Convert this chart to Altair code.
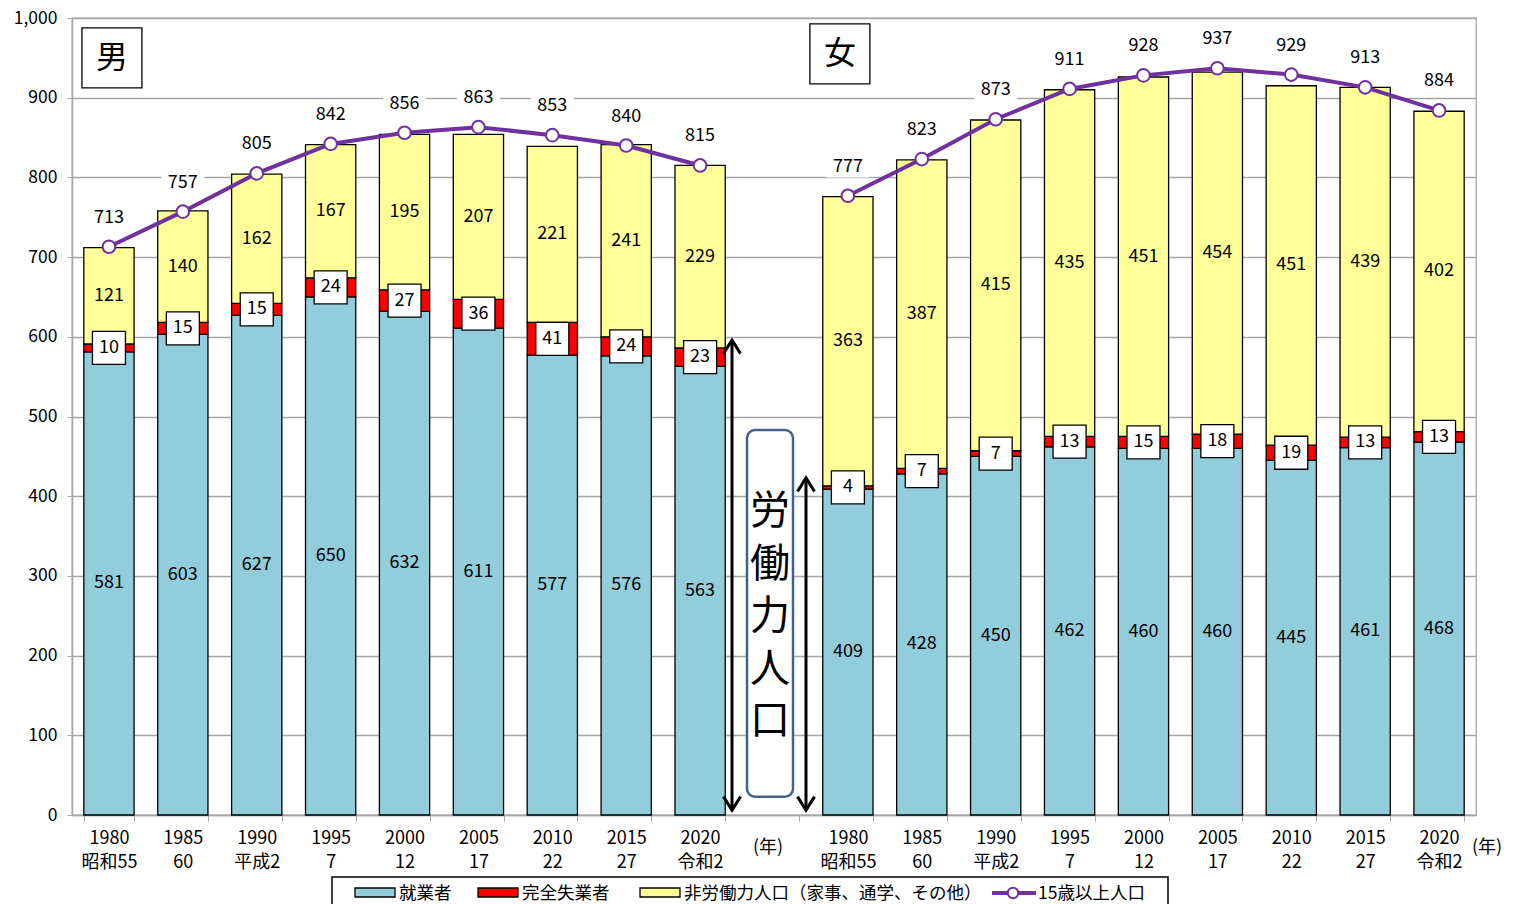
import altair as alt
import pandas as pd

# ---------------- data ----------------
years = ["1980", "1985", "1990", "1995", "2000", "2005", "2010", "2015", "2020"]
eras = ["昭和55", "60", "平成2", "7", "12", "17", "22", "27", "令和2"]

male_employed = [581, 603, 627, 650, 632, 611, 577, 576, 563]
male_unemployed = [10, 15, 15, 24, 27, 36, 41, 24, 23]
male_nonlabor = [121, 140, 162, 167, 195, 207, 221, 241, 229]
male_total = [713, 757, 805, 842, 856, 863, 853, 840, 815]

female_employed = [409, 428, 450, 462, 460, 460, 445, 461, 468]
female_unemployed = [4, 7, 7, 13, 15, 18, 19, 13, 13]
female_nonlabor = [363, 387, 415, 435, 451, 454, 451, 439, 402]
female_total = [777, 823, 873, 911, 928, 937, 929, 913, 884]

series_names = ["就業者", "完全失業者", "非労働力人口（家事、通学、その他）"]
line_name = "15歳以上人口"
series_colors = ["#92CDDC", "#FF0000", "#FFFF99"]
purple = "#7030A0"
grid_gray = "#A6A6A6"
FONT = "Noto Sans CJK JP"
NUM = 18

male_cats = [f"M|{y}|{e}" for y, e in zip(years, eras)]
female_cats = [f"F|{y}|{e}" for y, e in zip(years, eras)]
cats = male_cats + ["GAP"] + female_cats

# wide table
rows = []
for grp, cl, emp, une, non, tot in [
    ("男", male_cats, male_employed, male_unemployed, male_nonlabor, male_total),
    ("女", female_cats, female_employed, female_unemployed, female_nonlabor, female_total),
]:
    for c, a, b, n, t in zip(cl, emp, une, non, tot):
        rows.append(dict(cat=c, group=grp, emp=a, une=b, non=n, total=t,
                         emp_mid=a / 2, une_mid=a + b / 2, non_mid=a + b + n / 2))
wide = pd.DataFrame(rows)

long_rows = []
for r in rows:
    for i, (s, k) in enumerate(zip(series_names, ["emp", "une", "non"])):
        long_rows.append(dict(cat=r["cat"], series=s, value=r[k], order=i))
long = pd.DataFrame(long_rows)

# ---------------- scales & axes ----------------
xscale = alt.Scale(domain=cats, paddingInner=0.32, paddingOuter=0.16)
yscale = alt.Scale(domain=[0, 1000], nice=False)

label_expr = ("datum.value == 'GAP' ? '' : "
              "[split(datum.value,'|')[1], split(datum.value,'|')[2]]")

x_axis = alt.Axis(title=None, labelExpr=label_expr, labelAngle=0, labelFontSize=18,
                  labelLineHeight=24, labelFont=FONT, labelColor="black",
                  tickBand="extent", tickSize=6, tickColor=grid_gray,
                  domainColor=grid_gray, domainWidth=1.5, labelPadding=8,
                  labelBaseline="top", labelOverlap=False, grid=False)
y_axis = alt.Axis(title=None, values=list(range(0, 1001, 100)), format=",d",
                  labelFontSize=17.5, labelFont=FONT, labelColor="black",
                  gridColor=grid_gray, gridWidth=1.3, domainColor=grid_gray,
                  domainWidth=1.5, tickColor=grid_gray, tickSize=5, labelPadding=10)


def X():
    return alt.X("cat:N", scale=xscale, sort=cats, axis=x_axis)


def Y(field, **kw):
    return alt.Y(field, scale=yscale, axis=y_axis, **kw)


# ---------------- layers ----------------
bars = alt.Chart(long).mark_bar(stroke="black", strokeWidth=1.3).encode(
    x=X(),
    y=Y("value:Q", stack="zero"),
    color=alt.Color("series:N", scale=alt.Scale(domain=series_names, range=series_colors),
                    legend=None),
    order=alt.Order("order:Q"),
)

emp_text = alt.Chart(wide).mark_text(fontSize=NUM, font=FONT, color="black").encode(
    x=X(), y=Y("emp_mid:Q"), text="emp:Q")
non_text = alt.Chart(wide).mark_text(fontSize=NUM, font=FONT, color="black").encode(
    x=X(), y=Y("non_mid:Q"), text="non:Q")
une_box = alt.Chart(wide).mark_point(shape="square", size=1089, filled=True, fill="white",
                                     stroke="black", strokeWidth=1.3, opacity=1).encode(
    x=X(), y=Y("une_mid:Q"))
une_text = alt.Chart(wide).mark_text(fontSize=NUM, font=FONT, color="black").encode(
    x=X(), y=Y("une_mid:Q"), text="une:Q")

line = alt.Chart(wide).mark_line(color=purple, strokeWidth=4).encode(
    x=X(), y=Y("total:Q"), detail="group:N")
pts = alt.Chart(wide).mark_point(filled=True, fill="white", stroke=purple, strokeWidth=2,
                                 size=160, opacity=1).encode(
    x=X(), y=Y("total:Q"))
tot_bg = alt.Chart(wide).mark_point(shape="M-1,-0.5H1V0.5H-1Z", size=1849, filled=True,
                                    fill="white", strokeWidth=0, opacity=1, yOffset=-29).encode(
    x=X(), y=Y("total:Q"))
tot_text = alt.Chart(wide).mark_text(fontSize=NUM, font=FONT, color="black", yOffset=-29).encode(
    x=X(), y=Y("total:Q"), text="total:Q")

# gender boxes
gender_df = pd.DataFrame(dict(cat=[male_cats[0], female_cats[0]], label=["男", "女"],
                              yv=[950, 955], xo=[3, -8]))
gender_layers = []
for i in range(2):
    d = gender_df.iloc[[i]]
    xo = int(d["xo"].iloc[0])
    gender_layers.append(alt.Chart(d).mark_point(shape="square", size=3600, filled=True,
                                                 fill="white", stroke="black", strokeWidth=1.3,
                                                 opacity=1, xOffset=xo).encode(
        x=X(), y=Y("yv:Q")))
    gender_layers.append(alt.Chart(d).mark_text(fontSize=32, font=FONT, color="black",
                                                xOffset=xo).encode(
        x=X(), y=Y("yv:Q"), text="label:N"))

# labour-force arrows
arrow_specs = [(-42, 6, 596), (32, 6, 423)]
arrow_layers = []
for xo, y0, y1 in arrow_specs:
    d = pd.DataFrame(dict(cat=["GAP"], y0=[y0], y1=[y1]))
    arrow_layers.append(alt.Chart(d).mark_rule(color="black", strokeWidth=3, xOffset=xo).encode(
        x=X(), y=Y("y0:Q"), y2="y1:Q"))
    arrow_layers.append(alt.Chart(d).mark_point(shape="M-1,1.6L0,0L1,1.6", size=289, filled=False,
                                                stroke="black", strokeWidth=3, opacity=1,
                                                xOffset=xo).encode(
        x=X(), y=Y("y1:Q")))
    arrow_layers.append(alt.Chart(d).mark_point(shape="M-1,-1.6L0,0L1,-1.6", size=289, filled=False,
                                                stroke="black", strokeWidth=3, opacity=1,
                                                xOffset=xo).encode(
        x=X(), y=Y("y0:Q")))

lab_df = pd.DataFrame(dict(cat=["GAP"], top=[483], bot=[23], first=[380]))
lab_box = alt.Chart(lab_df).mark_bar(width=46, cornerRadius=8, fill="white", stroke="#41628F",
                                     strokeWidth=2.5, xOffset=-4).encode(
    x=X(), y=Y("bot:Q"), y2="top:Q")
lab_text = alt.Chart(lab_df).mark_text(fontSize=40, font=FONT, color="black", lineHeight=52.5,
                                       xOffset=-4, baseline="middle").encode(
    x=X(), y=Y("first:Q"), text=alt.value(list("労働力人口")))

# "(年)" labels
nen_df = pd.DataFrame(dict(cat=["GAP", female_cats[-1]], xo=[-6, 48]))
nen_layers = []
for i in range(2):
    d = nen_df.iloc[[i]]
    nen_layers.append(alt.Chart(d).mark_text(fontSize=18, font=FONT, color="black",
                                             xOffset=int(d["xo"].iloc[0])).encode(
        x=X(), y=alt.value(830), text=alt.value("(年)")))

# custom legend (pixel positions relative to plot area)
one = alt.Data(values=[{"a": 1}])
leg_layers = [
    alt.Chart(one).mark_rect(fill="white", stroke="black", strokeWidth=1.5).encode(
        x=alt.value(260), x2=alt.value(1096), y=alt.value(859), y2=alt.value(905)),
]
sym_x = [283, 406, 568]
txt_x = [327, 450, 612]
for sx, tx, name, col in zip(sym_x, txt_x, series_names, series_colors):
    leg_layers.append(alt.Chart(one).mark_rect(fill=col, stroke="black", strokeWidth=1.3).encode(
        x=alt.value(sx), x2=alt.value(sx + 40), y=alt.value(870), y2=alt.value(879)))
    leg_layers.append(alt.Chart(one).mark_text(fontSize=17.5, font=FONT, color="black",
                                               align="left", baseline="middle").encode(
        x=alt.value(tx), y=alt.value(876), text=alt.value(name)))
leg_layers.append(alt.Chart(one).mark_rule(color=purple, strokeWidth=4).encode(
    x=alt.value(920), x2=alt.value(964), y=alt.value(875)))
leg_layers.append(alt.Chart(one).mark_point(filled=True, fill="white", stroke=purple,
                                            strokeWidth=2, size=110, opacity=1).encode(
    x=alt.value(941), y=alt.value(875)))
leg_layers.append(alt.Chart(one).mark_text(fontSize=17.5, font=FONT, color="black",
                                           align="left", baseline="middle").encode(
    x=alt.value(966), y=alt.value(876), text=alt.value(line_name)))

chart = alt.layer(
    bars, emp_text, non_text, une_box, une_text, line, pts, tot_bg, tot_text,
    *gender_layers, lab_box, lab_text, *arrow_layers, *nen_layers, *leg_layers,
).properties(
    width=1404, height=797,
    autosize=alt.AutoSizeParams(type="none"),
    padding={"left": 64, "top": 10, "right": 29, "bottom": 89},
).configure_view(stroke=grid_gray, strokeWidth=1.3).configure_text(font=FONT)

chart.save("out.html", embed_options={"renderer": "svg", "actions": False})
